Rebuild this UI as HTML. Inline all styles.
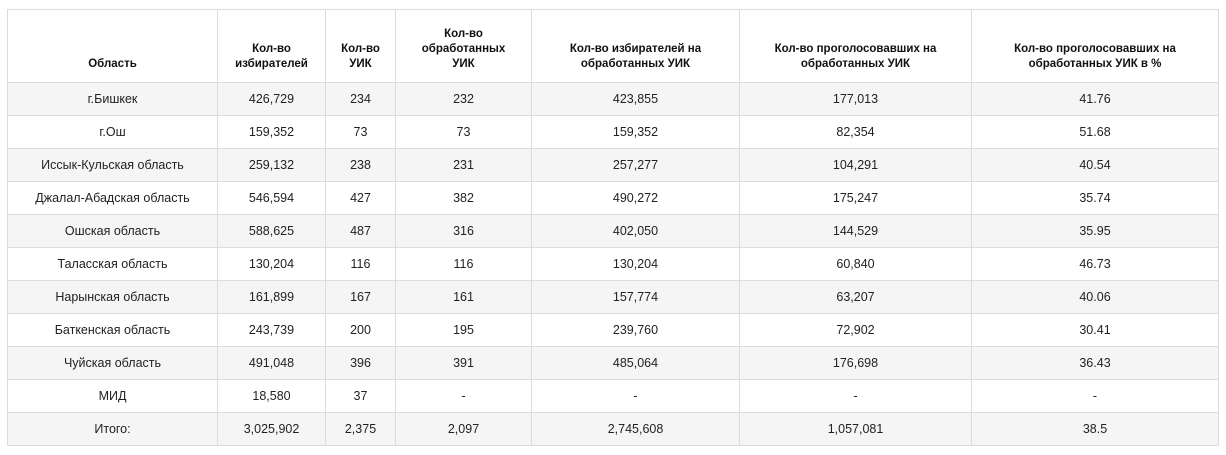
<!DOCTYPE html>
<html><head><meta charset="utf-8"><style>
body{margin:0;background:#fff;width:1226px;height:455px;overflow:hidden;font-family:"Liberation Sans","DejaVu Sans",sans-serif;}
table{position:absolute;left:7px;top:9px;border-collapse:collapse;table-layout:fixed;width:1211px;}
td,th{border:1px solid #dcdcdc;text-align:center;color:#222;font-size:12.5px;padding:0;height:32px;}
th{font-weight:bold;font-size:11.5px;height:62px;vertical-align:bottom;padding-bottom:10px;line-height:15px;color:#111;}
tr:nth-child(even) td{background:#f5f5f5;}
</style></head><body>
<table>
<colgroup><col style="width:210px"><col style="width:108px"><col style="width:70px"><col style="width:136px"><col style="width:208px"><col style="width:232px"><col style="width:247px"></colgroup>
<tr><th>Область</th><th>Кол-во<br>избирателей</th><th>Кол-во<br>УИК</th><th>Кол-во<br>обработанных<br>УИК</th><th>Кол-во избирателей на<br>обработанных УИК</th><th>Кол-во проголосовавших на<br>обработанных УИК</th><th>Кол-во проголосовавших на<br>обработанных УИК в %</th></tr>
<tr><td>г.Бишкек</td><td>426,729</td><td>234</td><td>232</td><td>423,855</td><td>177,013</td><td>41.76</td></tr>
<tr><td>г.Ош</td><td>159,352</td><td>73</td><td>73</td><td>159,352</td><td>82,354</td><td>51.68</td></tr>
<tr><td>Иссык-Кульская область</td><td>259,132</td><td>238</td><td>231</td><td>257,277</td><td>104,291</td><td>40.54</td></tr>
<tr><td>Джалал-Абадская область</td><td>546,594</td><td>427</td><td>382</td><td>490,272</td><td>175,247</td><td>35.74</td></tr>
<tr><td>Ошская область</td><td>588,625</td><td>487</td><td>316</td><td>402,050</td><td>144,529</td><td>35.95</td></tr>
<tr><td>Таласская область</td><td>130,204</td><td>116</td><td>116</td><td>130,204</td><td>60,840</td><td>46.73</td></tr>
<tr><td>Нарынская область</td><td>161,899</td><td>167</td><td>161</td><td>157,774</td><td>63,207</td><td>40.06</td></tr>
<tr><td>Баткенская область</td><td>243,739</td><td>200</td><td>195</td><td>239,760</td><td>72,902</td><td>30.41</td></tr>
<tr><td>Чуйская область</td><td>491,048</td><td>396</td><td>391</td><td>485,064</td><td>176,698</td><td>36.43</td></tr>
<tr><td>МИД</td><td>18,580</td><td>37</td><td>-</td><td>-</td><td>-</td><td>-</td></tr>
<tr><td>Итого:</td><td>3,025,902</td><td>2,375</td><td>2,097</td><td>2,745,608</td><td>1,057,081</td><td>38.5</td></tr>
</table>
</body></html>
